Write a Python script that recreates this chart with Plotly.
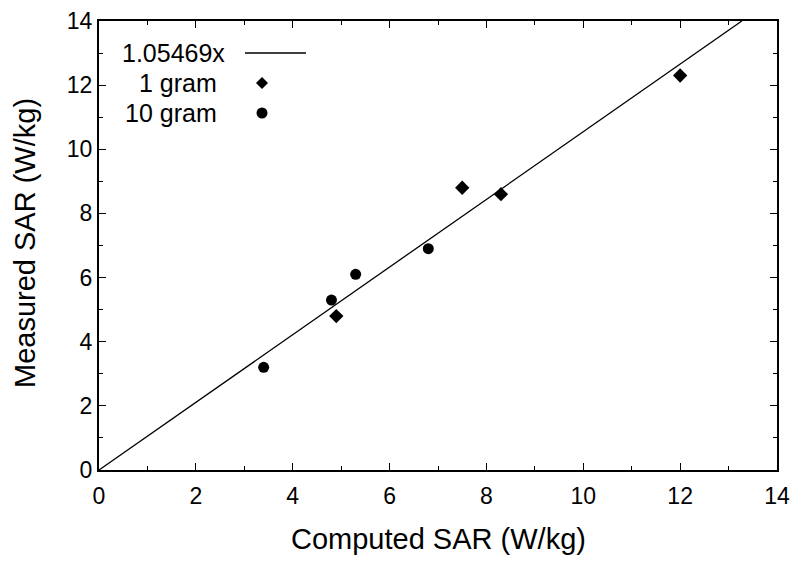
import plotly.graph_objects as go

# Data
slope = 1.05469
one_gram_x = [4.9, 7.5, 8.3, 12.0]
one_gram_y = [4.8, 8.8, 8.6, 12.3]
ten_gram_x = [3.4, 4.8, 5.3, 6.8]
ten_gram_y = [3.2, 5.3, 6.1, 6.9]
fit_x = [0, 14 / slope]
fit_y = [slope * v for v in fit_x]
tick_vals = [0, 2, 4, 6, 8, 10, 12, 14]
legend_labels = ["1.05469x", "1 gram", "10 gram"]
x_title = "Computed SAR (W/kg)"
y_title = "Measured SAR (W/kg)"

FONT = "Liberation Sans, Arial, Helvetica, sans-serif"
# plot area in page pixels: x 99..777, y 21..470 (page has 8px body margin)
X0, X1, Y0, Y1 = 99, 777, 21, 470
PW, PH = X1 - X0, Y1 - Y0


def px(v):
    return (v - X0) / PW


def py(v):
    return (Y1 - v) / PH


fig = go.Figure()
fig.add_trace(go.Scatter(x=fit_x, y=fit_y, mode="lines",
                         line=dict(color="black", width=1.3), showlegend=False))
fig.add_trace(go.Scatter(x=one_gram_x, y=one_gram_y, mode="markers",
                         marker=dict(symbol="diamond", size=11, color="black"),
                         showlegend=False))
fig.add_trace(go.Scatter(x=ten_gram_x, y=ten_gram_y, mode="markers",
                         marker=dict(symbol="circle", size=11, color="black"),
                         showlegend=False))

# custom legend (text left of sample, like gnuplot)
ly = [py(53), py(83), py(113)]
lx = [px(227), px(219), px(219)]
for lab, xx, yy in zip(legend_labels, lx, ly):
    fig.add_annotation(xref="paper", yref="paper", x=xx, y=yy, text=lab, showarrow=False,
                       xanchor="right", yanchor="middle",
                       font=dict(family=FONT, size=25, color="black"))
fig.add_shape(type="line", xref="paper", yref="paper",
              x0=px(245), x1=px(306), y0=ly[0], y1=ly[0],
              line=dict(color="black", width=1.3))
cx = px(262)
d = 6
fig.add_shape(type="path", xref="paper", yref="paper",
              path=f"M {cx - d/PW} {ly[1]} L {cx} {ly[1] + d/PH} L {cx + d/PW} {ly[1]} L {cx} {ly[1] - d/PH} Z",
              fillcolor="black", line=dict(color="black", width=0))
r = 5.5
fig.add_shape(type="circle", xref="paper", yref="paper",
              x0=cx - r/PW, x1=cx + r/PW, y0=ly[2] - r/PH, y1=ly[2] + r/PH,
              fillcolor="black", line=dict(color="black", width=0))

# axis titles
fig.add_annotation(xref="paper", yref="paper", x=px(438), y=py(539), text=x_title,
                   showarrow=False, xanchor="center", yanchor="middle",
                   font=dict(family=FONT, size=29, color="black"))
fig.add_annotation(xref="paper", yref="paper", x=px(25), y=py(243), text=y_title,
                   showarrow=False, textangle=-90, xanchor="center", yanchor="middle",
                   font=dict(family=FONT, size=29, color="black"))

axis_common = dict(
    range=[0, 14], tickvals=tick_vals, ticks="inside", ticklen=7, tickwidth=1,
    tickcolor="black", showline=True, linecolor="black", linewidth=2, mirror="ticks",
    showgrid=False, zeroline=False, automargin=False,
    tickfont=dict(family=FONT, size=23, color="black"),
    minor=dict(dtick=1, ticks="inside", ticklen=4, tickcolor="black", showgrid=False),
)

fig.update_layout(
    width=792, height=556,
    margin=dict(l=X0 - 8, r=792 - (X1 - 8), t=Y0 - 8, b=556 - (Y1 - 8)),
    paper_bgcolor="white", plot_bgcolor="white",
    xaxis=dict(**axis_common, ticklabelstandoff=4),
    yaxis=dict(**axis_common),
)

fig.write_html("out.html")
